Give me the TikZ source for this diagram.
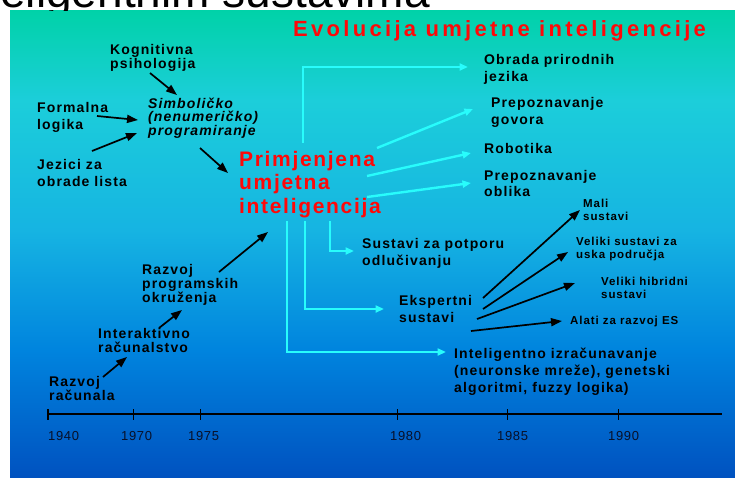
\documentclass[tikz,border=0pt]{standalone}
\usepackage{fontspec}
\setmainfont{Liberation Sans}
\newfontfamily\lblfont[LetterSpace=8]{Liberation Sans}
\newfontfamily\ttlfont[LetterSpace=15]{Liberation Sans}
\newfontfamily\redfont[LetterSpace=8]{Liberation Sans}
\newfontfamily\yrfont[LetterSpace=5]{Liberation Sans}
\usetikzlibrary{arrows.meta}
\definecolor{redt}{RGB}{255,8,8}
\definecolor{cyanl}{RGB}{40,252,252}
\definecolor{yearc}{RGB}{8,16,40}
\definecolor{g0}{RGB}{0,210,168}
\definecolor{g1}{RGB}{28,206,218}
\definecolor{g2}{RGB}{22,180,226}
\definecolor{g3}{RGB}{0,132,222}
\definecolor{g4}{RGB}{0,82,192}
\tikzset{
  lbl/.style={anchor=north west, inner sep=0pt, align=left, text=black,
    font=\lblfont\bfseries\fontsize{14}{#1}\selectfont},
  lbl/.default=17,
  sml/.style={anchor=north west, inner sep=0pt, align=left, text=black,
    font=\lblfont\bfseries\fontsize{11.5}{#1}\selectfont},
  sml/.default=13,
  yr/.style={anchor=west, inner sep=0pt, text=yearc, font=\yrfont\fontsize{13}{14}\selectfont},
  barrow/.style={-{Triangle[length=11pt,width=8pt]}, line width=1.7pt, black},
  carrow/.style={-{Triangle[length=8.5pt,width=7pt]}, line width=2.4pt, cyanl},
}
\begin{document}
\begin{tikzpicture}[x=1pt,y=-1pt]
\useasboundingbox (0,0) rectangle (735,477);
\fill[white] (0,0) rectangle (735,477);
% background gradient panel
\shade[top color=g0, bottom color=g1] (10,10) rectangle (735,100.5);
\shade[top color=g1, bottom color=g2] (10,100) rectangle (735,230.5);
\shade[top color=g2, bottom color=g3] (10,230) rectangle (735,350.5);
\shade[top color=g3, bottom color=g4] (10,350) rectangle (735,477);
% cut-off slide title
\begin{scope}
\clip (0,0) rectangle (735,10);
\node[anchor=base east, inner sep=0pt, font=\fontsize{46}{46}\selectfont] (slidetitle) at (430,7.5) {inteligentnim sustavima};
\end{scope}
% title
\node[anchor=base west, inner sep=0pt, text=redt, font=\ttlfont\bfseries\fontsize{22}{24}\selectfont] (title) at (293,36) {Evolucija umjetne inteligencije};
% left labels
\node[lbl=14.5] (kog) at (110,44) {Kognitivna\\psihologija};
\node[lbl=17] (form) at (37,102) {Formalna\\logika};
\node[lbl=16.7] (jez) at (37,159) {Jezici za\\obrade lista};
\node[lbl=13, font=\lblfont\bfseries\itshape\fontsize{14}{13}\selectfont] (simb) at (148,98) {Simboličko\\(nenumeričko)\\programiranje};
\node[anchor=north west, inner sep=0pt, align=left, text=redt, font=\redfont\bfseries\fontsize{21}{23.5}\selectfont] (prim) at (239,151) {Primjenjena\\umjetna\\inteligencija};
\node[lbl=12.7] (rprog) at (142,264) {Razvoj\\programskih\\okruženja};
\node[lbl=14] (inter) at (98,328) {Interaktivno\\računalstvo};
\node[lbl=13] (rrac) at (49,376) {Razvoj\\računala};
% right labels
\node[lbl=17] (obr) at (484,54) {Obrada prirodnih\\jezika};
\node[lbl=17] (govor) at (491,97) {Prepoznavanje\\govora};
\node[lbl] (robot) at (484,143) {Robotika};
\node[lbl=16] (oblik) at (484,170) {Prepoznavanje\\oblika};
\node[lbl=17] (potp) at (362,238) {Sustavi za potporu\\odlučivanju};
\node[lbl=17] (eksp) at (399,295) {Ekspertni\\sustavi};
\node[lbl=17] (intel) at (454,348) {Inteligentno izračunavanje\\(neuronske mreže), genetski\\algoritmi, fuzzy logika)};
\node[sml=13] (mali) at (583,199) {Mali\\sustavi};
\node[sml=12.5] (velu) at (576,237) {Veliki sustavi za\\uska područja};
\node[sml=13] (velh) at (601,277) {Veliki hibridni\\sustavi};
\node[sml] (alati) at (570,316) {Alati za razvoj ES};
% black arrow endpoints
\coordinate (kogS) at (150,73);   \coordinate (simbN) at (177,95);
\coordinate (formE) at (97,116);  \coordinate (simbW1) at (138,120);
\coordinate (jezN) at (92,151);   \coordinate (simbW2) at (137,133);
\coordinate (simbS) at (200,148); \coordinate (primW) at (228,173);
\coordinate (rracE) at (103,377); \coordinate (interN) at (127,357);
\coordinate (interE) at (159,328);\coordinate (rprogS) at (182,310);
\coordinate (rprogE) at (219,272);\coordinate (primSW) at (268,232);
\coordinate (eks1) at (483,298);  \coordinate (maliW) at (580,210);
\coordinate (eks2) at (483,309);  \coordinate (veluW) at (568,252);
\coordinate (eks3) at (477,319);  \coordinate (velhW) at (575,283);
\coordinate (eks4) at (471,331);  \coordinate (alatiW) at (562,321);
\draw[barrow] (kogS) -- (simbN);
\draw[barrow] (formE) -- (simbW1);
\draw[barrow] (jezN) -- (simbW2);
\draw[barrow] (simbS) -- (primW);
\draw[barrow] (rracE) -- (interN);
\draw[barrow] (interE) -- (rprogS);
\draw[barrow] (rprogE) -- (primSW);
\draw[barrow] (eks1) -- (maliW);
\draw[barrow] (eks2) -- (veluW);
\draw[barrow] (eks3) -- (velhW);
\draw[barrow] (eks4) -- (alatiW);
% cyan arrows
\coordinate (p1) at (303,143); \coordinate (obrW) at (468,67);
\coordinate (p2) at (377,148); \coordinate (govW) at (473,109);
\coordinate (p3) at (367,176); \coordinate (robW) at (471,153);
\coordinate (p4) at (367,197); \coordinate (oblW) at (471,183);
\coordinate (p5) at (330,221); \coordinate (potW) at (354,251);
\coordinate (p6) at (305,221); \coordinate (ekspW) at (384,309);
\coordinate (p7) at (287,221); \coordinate (intW) at (446,352);
\draw[carrow] (p1) |- (obrW);
\draw[carrow] (p2) -- (govW);
\draw[carrow] (p3) -- (robW);
\draw[carrow] (p4) -- (oblW);
\draw[carrow] (p5) |- (potW);
\draw[carrow] (p6) |- (ekspW);
\draw[carrow] (p7) |- (intW);
% time axis
\coordinate (ax0) at (48,414); \coordinate (ax1) at (722,414);
\draw[line width=1.3pt, black] (ax0) -- (ax1);
\foreach \t in {48,133.3,200.7,397.3,507.7,618.3}
  \draw[line width=1.2pt, black] (\t,409) -- (\t,419.5);
\node[yr] (y1940) at (48,436) {1940};
\node[yr] (y1970) at (121,436) {1970};
\node[yr] (y1975) at (188,436) {1975};
\node[yr] (y1980) at (390,436) {1980};
\node[yr] (y1985) at (497,436) {1985};
\node[yr] (y1990) at (608,436) {1990};
\end{tikzpicture}
\end{document}
